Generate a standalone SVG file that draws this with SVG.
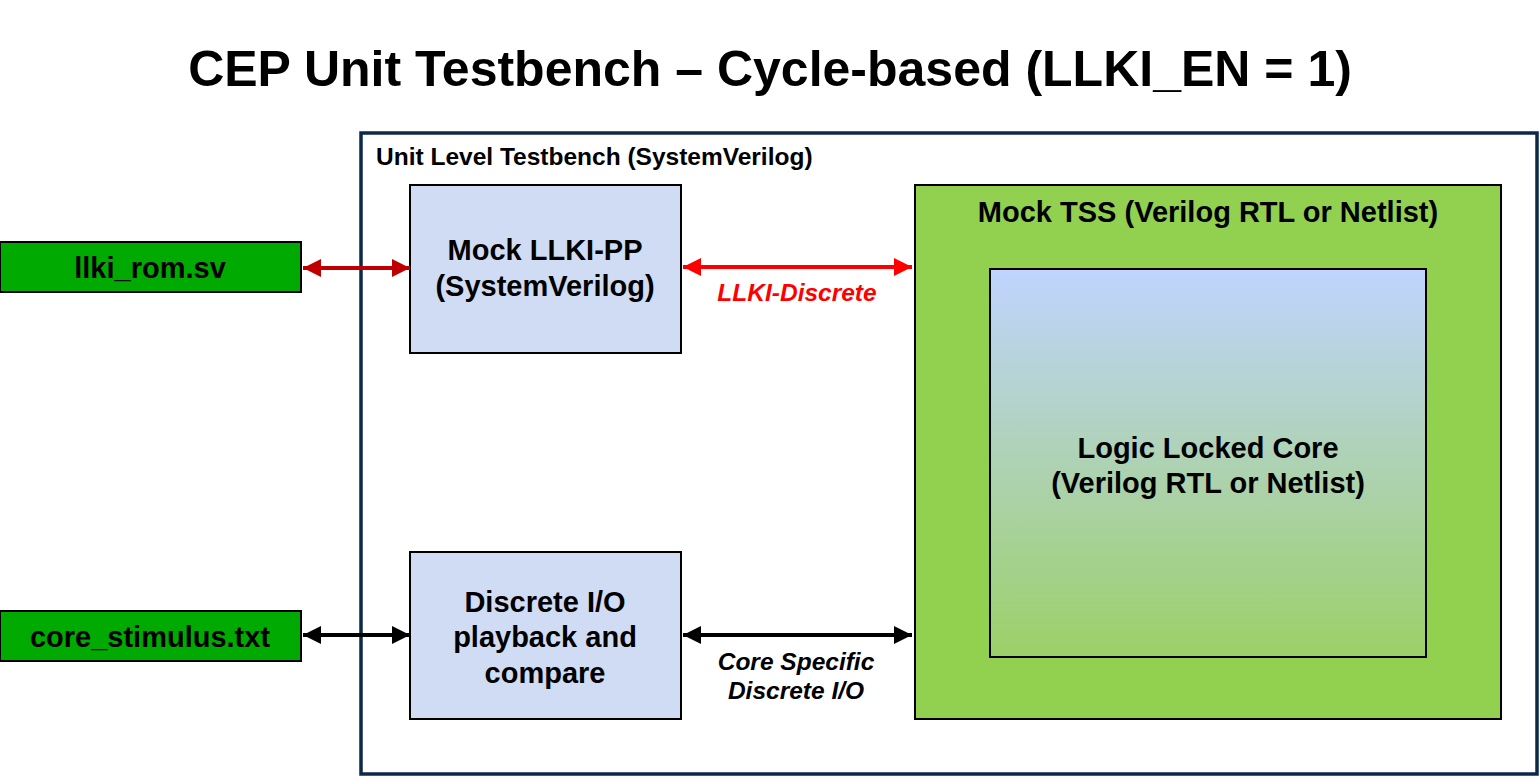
<svg xmlns="http://www.w3.org/2000/svg" width="1540" height="777" viewBox="0 0 1540 777">
<style>
text{font-family:"Liberation Sans",Arial,sans-serif;font-weight:bold;fill:#000}
.t{font-size:29px;text-anchor:middle}
.lbl{font-size:24.5px;font-style:italic;text-anchor:middle}
.file{fill:#00AA00;stroke:#000;stroke-width:2}
.blk{fill:#D0DCF3;stroke:#000;stroke-width:2}
</style>
<defs>
<linearGradient id="g" x1="0" y1="0" x2="0" y2="1">
<stop offset="0" stop-color="#C0D4FF"/>
<stop offset="1" stop-color="#9CD068"/>
</linearGradient>
<marker id="ad" viewBox="0 0 10 10" refX="10" refY="5" markerWidth="4.5" markerHeight="4.5" orient="auto-start-reverse" markerUnits="strokeWidth"><path d="M0,0L10,5L0,10z" fill="#C00000"/></marker>
<marker id="ar" viewBox="0 0 10 10" refX="10" refY="5" markerWidth="4.5" markerHeight="4.5" orient="auto-start-reverse" markerUnits="strokeWidth"><path d="M0,0L10,5L0,10z" fill="#FF0000"/></marker>
<marker id="ab" viewBox="0 0 10 10" refX="10" refY="5" markerWidth="4.5" markerHeight="4.5" orient="auto-start-reverse" markerUnits="strokeWidth"><path d="M0,0L10,5L0,10z" fill="#000"/></marker>
</defs>
<rect width="1540" height="777" fill="#fff"/>
<text x="770" y="86" font-size="50" text-anchor="middle">CEP Unit Testbench – Cycle-based (LLKI_EN = 1)</text>
<g id="testbench">
<rect x="361" y="133" width="1176" height="641" fill="#fff" stroke="#0B2A4A" stroke-width="3.5"/>
<text x="376" y="165" font-size="24.5">Unit Level Testbench (SystemVerilog)</text>
</g>
<g id="llki_rom">
<rect class="file" x="0" y="242" width="301" height="50"/>
<text class="t" x="150" y="278">llki_rom.sv</text>
</g>
<g id="core_stimulus">
<rect class="file" x="0" y="611" width="301" height="50"/>
<text class="t" x="150" y="647">core_stimulus.txt</text>
</g>
<g id="mock_llki_pp">
<rect class="blk" x="410" y="185" width="271" height="168"/>
<text class="t" x="545" y="260">Mock LLKI-PP</text>
<text class="t" x="545" y="296">(SystemVerilog)</text>
</g>
<g id="discrete_io">
<rect class="blk" x="410" y="552" width="271" height="167"/>
<text class="t" x="545" y="612">Discrete I/O</text>
<text class="t" x="545" y="647">playback and</text>
<text class="t" x="545" y="683">compare</text>
</g>
<g id="mock_tss">
<rect x="915" y="185" width="586" height="534" fill="#92D050" stroke="#000" stroke-width="2"/>
<text class="t" x="1208" y="222">Mock TSS (Verilog RTL or Netlist)</text>
</g>
<g id="logic_locked_core">
<rect x="990" y="269" width="436" height="388" fill="url(#g)" stroke="#000" stroke-width="2"/>
<text class="t" x="1208" y="458">Logic Locked Core</text>
<text class="t" x="1208" y="493">(Verilog RTL or Netlist)</text>
</g>
<g id="connectors" fill="none" stroke-width="4">
<line x1="303" y1="268" x2="410" y2="268" stroke="#C00000" marker-start="url(#ad)" marker-end="url(#ad)"/>
<line x1="683" y1="267" x2="912" y2="267" stroke="#FF0000" marker-start="url(#ar)" marker-end="url(#ar)"/>
<line x1="303" y1="635" x2="410" y2="635" stroke="#000" marker-start="url(#ab)" marker-end="url(#ab)"/>
<line x1="683" y1="635" x2="912" y2="635" stroke="#000" marker-start="url(#ab)" marker-end="url(#ab)"/>
</g>
<text class="lbl" x="797" y="301" style="fill:#FF0000">LLKI-Discrete</text>
<text class="lbl" x="796" y="670">Core Specific</text>
<text class="lbl" x="796" y="699">Discrete I/O</text>
</svg>
